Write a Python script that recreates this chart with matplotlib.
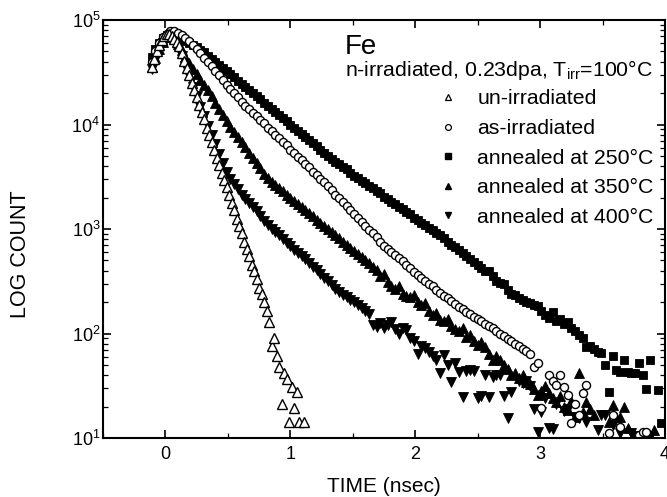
import numpy as np
import matplotlib
matplotlib.use("Agg")
import matplotlib.pyplot as plt
from matplotlib.lines import Line2D
from matplotlib.ticker import LogLocator, MultipleLocator, NullFormatter

plt.rcParams['font.family'] = ['Liberation Sans', 'DejaVu Sans']
plt.rcParams['mathtext.fontset'] = 'custom'
plt.rcParams['mathtext.rm'] = 'Liberation Sans'
plt.rcParams['mathtext.it'] = 'Liberation Sans:italic'
plt.rcParams['mathtext.bf'] = 'Liberation Sans:bold'

# ---------------- data (log10 of counts) ----------------
time_unirr = [
    -0.11, -0.09, -0.07, -0.05, -0.03, -0.01, 0.01, 0.03, 0.05, 0.07,
    0.09, 0.11, 0.13, 0.15, 0.17, 0.19, 0.21, 0.23, 0.25, 0.27,
    0.29, 0.31, 0.33, 0.35, 0.37, 0.39, 0.41, 0.43, 0.45, 0.47,
    0.49, 0.51, 0.53, 0.55, 0.57, 0.59, 0.61, 0.63, 0.65, 0.67,
    0.69, 0.71, 0.73, 0.75, 0.77, 0.79, 0.81, 0.83, 0.85, 0.87,
    0.89, 0.91, 0.93, 0.95, 0.97, 0.99, 1.01, 1.03, 1.05, 1.07,
    1.09, 1.11]
log_unirr = [
    4.55, 4.63, 4.70, 4.76, 4.81, 4.85, 4.87, 4.87, 4.85, 4.82,
    4.79, 4.75, 4.68, 4.61, 4.54, 4.47, 4.40, 4.33, 4.26, 4.19,
    4.12, 4.05, 3.97, 3.90, 3.83, 3.76, 3.68, 3.61, 3.54, 3.47,
    3.40, 3.33, 3.25, 3.18, 3.10, 3.03, 2.96, 2.88, 2.81, 2.74,
    2.66, 2.60, 2.52, 2.44, 2.38, 2.30, 2.22, 2.11, 1.88, 1.96,
    1.78, 1.68, 1.33, 1.62, 1.56, 1.15, 1.49, 1.29, 1.44, 1.15,
    None, 1.15]

time_ns = [
    -0.11, -0.08, -0.05, -0.02, 0.01, 0.04, 0.07, 0.10, 0.13, 0.16,
    0.19, 0.22, 0.25, 0.28, 0.31, 0.34, 0.37, 0.40, 0.43, 0.46,
    0.49, 0.52, 0.55, 0.58, 0.61, 0.64, 0.67, 0.70, 0.73, 0.76,
    0.79, 0.82, 0.85, 0.88, 0.91, 0.94, 0.97, 1.00, 1.03, 1.06,
    1.09, 1.12, 1.15, 1.18, 1.21, 1.24, 1.27, 1.30, 1.33, 1.36,
    1.39, 1.42, 1.45, 1.48, 1.51, 1.54, 1.57, 1.60, 1.63, 1.66,
    1.69, 1.72, 1.75, 1.78, 1.81, 1.84, 1.87, 1.90, 1.93, 1.96,
    1.99, 2.02, 2.05, 2.08, 2.11, 2.14, 2.17, 2.20, 2.23, 2.26,
    2.29, 2.32, 2.35, 2.38, 2.41, 2.44, 2.47, 2.50, 2.53, 2.56,
    2.59, 2.62, 2.65, 2.68, 2.71, 2.74, 2.77, 2.80, 2.83, 2.86,
    2.89, 2.92, 2.95, 2.98, 3.01, 3.04, 3.07, 3.10, 3.13, 3.16,
    3.19, 3.22, 3.25, 3.28, 3.31, 3.34, 3.37, 3.40, 3.43, 3.46,
    3.49, 3.52, 3.55, 3.58, 3.61, 3.64, 3.67, 3.70, 3.73, 3.76,
    3.79, 3.82, 3.85, 3.88, 3.91, 3.94, 3.97]

log_asirr = [
    4.60, 4.70, 4.78, 4.84, 4.87, 4.89, 4.89, 4.88, 4.86, 4.83,
    4.80, 4.76, 4.72, 4.68, 4.64, 4.60, 4.56, 4.51, 4.47, 4.43,
    4.38, 4.34, 4.30, 4.26, 4.22, 4.18, 4.15, 4.11, 4.08, 4.04,
    4.01, 3.97, 3.94, 3.90, 3.87, 3.83, 3.80, 3.76, 3.73, 3.69,
    3.66, 3.62, 3.59, 3.55, 3.52, 3.48, 3.45, 3.41, 3.37, 3.33,
    3.30, 3.26, 3.22, 3.18, 3.14, 3.11, 3.07, 3.03, 2.99, 2.96,
    2.92, 2.88, 2.84, 2.81, 2.78, 2.75, 2.72, 2.69, 2.66, 2.63,
    2.59, 2.56, 2.53, 2.50, 2.47, 2.45, 2.42, 2.39, 2.36, 2.34,
    2.31, 2.28, 2.25, 2.23, 2.21, 2.19, 2.16, 2.14, 2.12, 2.09,
    2.07, 2.05, 2.02, 2.00, 1.98, 1.95, 1.93, 1.90, 1.88, 1.85,
    1.83, 1.80, 1.68, 1.72, 1.29, None, 1.60, 1.55, 1.51, 1.60,
    1.49, 1.41, 1.14, 1.33, 1.22, 1.43, 1.51, None, None, None,
    None, None, 1.05, 1.22, None, 1.11, None, None, None, None,
    1.03, 1.06, 1.06, None, None, None, None]

log_ann250 = [
    4.65, 4.72, 4.78, 4.83, 4.86, 4.87, 4.86, 4.84, 4.82, 4.80,
    4.78, 4.76, 4.74, 4.71, 4.69, 4.66, 4.63, 4.60, 4.57, 4.54,
    4.51, 4.48, 4.45, 4.42, 4.39, 4.36, 4.33, 4.30, 4.27, 4.24,
    4.21, 4.18, 4.15, 4.12, 4.09, 4.06, 4.03, 4.00, 3.97, 3.94,
    3.91, 3.88, 3.85, 3.82, 3.79, 3.76, 3.73, 3.70, 3.67, 3.64,
    3.62, 3.59, 3.57, 3.54, 3.51, 3.49, 3.46, 3.44, 3.41, 3.39,
    3.36, 3.34, 3.31, 3.29, 3.26, 3.24, 3.21, 3.19, 3.16, 3.14,
    3.11, 3.09, 3.06, 3.04, 3.01, 2.99, 2.96, 2.94, 2.91, 2.88,
    2.85, 2.83, 2.80, 2.77, 2.74, 2.71, 2.68, 2.66, 2.63, 2.60,
    2.60, 2.55, 2.50, 2.48, 2.47, 2.42, 2.38, 2.37, 2.34, 2.32,
    2.30, 2.29, 2.27, 2.26, 2.22, 2.18, 2.15, 2.21, 2.12, 2.14,
    2.09, 2.11, 2.05, 2.02, 1.99, 1.96, 1.87, 1.88, 1.85, 1.82,
    1.81, 1.70, 1.44, 1.78, 1.65, 1.63, 1.75, 1.63, 1.62, 1.62,
    1.72, 1.60, 1.47, 1.75, None, 1.46, 1.14]

log_ann350 = [
    4.55, 4.64, 4.72, 4.79, 4.84, 4.85, 4.82, 4.77, 4.71, 4.65,
    4.59, 4.53, 4.48, 4.43, 4.38, 4.33, 4.27, 4.21, 4.15, 4.09,
    4.03, 3.98, 3.93, 3.88, 3.83, 3.78, 3.73, 3.68, 3.63, 3.58,
    3.53, 3.49, 3.45, 3.42, 3.39, 3.36, 3.33, 3.30, 3.27, 3.24,
    3.21, 3.18, 3.15, 3.12, 3.09, 3.06, 3.03, 3.00, 2.97, 2.94,
    2.91, 2.88, 2.85, 2.82, 2.79, 2.76, 2.73, 2.70, 2.67, 2.64,
    2.61, 2.55, 2.57, 2.49, 2.45, 2.43, 2.45, 2.38, 2.36, 2.35,
    2.37, 2.30, 2.27, 2.29, 2.22, 2.18, 2.20, 2.13, 2.12, 2.14,
    2.07, 2.04, 2.02, 2.05, 1.97, 1.99, 1.93, 1.89, 1.92, 1.87,
    1.80, 1.75, 1.78, 1.75, 1.70, 1.66, 1.60, 1.62, 1.57, 1.60,
    1.54, 1.52, 1.47, 1.41, 1.45, 1.50, 1.43, 1.38, 1.34, 1.40,
    1.30, 1.27, 1.35, 1.20, 1.62, 1.25, 1.34, 1.28, 1.22, None,
    None, None, 1.15, 1.32, 1.20, 1.20, 1.30, 1.10, None, None,
    None, None, None, 1.03, 1.08, None, None]

log_ann400 = [
    4.53, 4.62, 4.71, 4.78, 4.83, 4.84, 4.81, 4.75, 4.66, 4.56,
    4.46, 4.36, 4.27, 4.17, 4.08, 3.99, 3.90, 3.81, 3.72, 3.63,
    3.55, 3.48, 3.43, 3.38, 3.33, 3.29, 3.25, 3.21, 3.17, 3.12,
    3.08, 3.04, 3.00, 2.97, 2.94, 2.90, 2.87, 2.84, 2.80, 2.77,
    2.74, 2.71, 2.67, 2.64, 2.61, 2.57, 2.53, 2.50, 2.46, 2.43,
    2.40, 2.37, 2.35, 2.32, 2.30, 2.27, 2.24, 2.22, 2.19, 2.08,
    2.06, 2.10, 2.05, 2.08, 2.11, 2.04, 2.00, 2.05, 2.03, 1.96,
    1.93, 1.80, 1.88, 1.86, 1.82, 1.78, 1.75, 1.62, 1.79, 1.70,
    1.54, 1.72, 1.63, 1.39, 1.64, 1.65, 1.64, 1.38, 1.40, 1.60,
    1.39, 1.58, 1.60, 1.60, 1.40, 1.19, 1.44, None, 1.55, 1.53,
    1.55, 1.50, 1.28, 1.06, 1.25, 1.38, 1.10, 1.09, 1.33, None,
    1.26, 1.28, None, 1.20, 1.19, None, 1.15, None, None, 1.08,
    1.22, 1.22, None, 1.12, None, 1.05, None, None, 1.05, 1.02,
    None, None, None, None, None, None, None]

labels = ["un-irradiated", "as-irradiated", "annealed at 250°C",
          "annealed at 350°C", "annealed at 400°C"]


def counts(logs):
    return np.array([np.nan if v is None else 10.0 ** v for v in logs])


fig = plt.figure(figsize=(6.67, 4.97), dpi=100)
ax = fig.add_axes([103 / 667, 1 - 438 / 497, (665 - 103) / 667, (438 - 20) / 497])
ax.set_yscale('log')
ax.set_xlim(-0.5, 4.0)
ax.set_ylim(10, 1e5)

common = dict(ls='none', mec='black')
ax.plot(time_ns, counts(log_ann250), marker='s', ms=5.6, mfc='black', mew=0.6, **common)
ax.plot(time_ns, counts(log_ann350), marker='^', ms=7.0, mfc='black', mew=0.6, **common)
ax.plot(time_ns, counts(log_ann400), marker='v', ms=7.0, mfc='black', mew=0.6, **common)
ax.plot(time_ns, counts(log_asirr), marker='o', ms=5.8, mfc='white', mew=1.0, **common)
ax.plot(time_unirr, counts(log_unirr), marker='^', ms=7.0, mfc='white', mew=1.0, **common)

# ticks
ax.xaxis.set_major_locator(MultipleLocator(1))
ax.xaxis.set_minor_locator(MultipleLocator(0.5))
ax.yaxis.set_major_locator(LogLocator(base=10))
ax.yaxis.set_minor_locator(LogLocator(base=10, subs=np.arange(2, 10)))
ax.yaxis.set_minor_formatter(NullFormatter())
ax.tick_params(which='both', direction='in', top=True, right=True, labelsize=13)
ax.tick_params(which='major', length=6, width=1.2)
ax.tick_params(which='minor', length=3.5, width=0.9)
ax.tick_params(axis='x', pad=6)
ax.tick_params(axis='y', pad=2)
for s in ax.spines.values():
    s.set_linewidth(1.5)

ax.set_xlabel('TIME (nsec)', fontsize=15)
ax.set_ylabel('LOG COUNT', fontsize=15.5)
ax.xaxis.set_label_coords(0.5, -0.093)
ax.yaxis.set_label_coords(-0.128, 0.44)

ax.text(0.431, 0.918, 'Fe', transform=ax.transAxes, fontsize=20, va='baseline')
ax.text(0.431, 0.866, 'n-irradiated, 0.23dpa, T$_{\\rm irr}$=100°C',
        transform=ax.transAxes, fontsize=15.3, va='baseline')

handles = [
    Line2D([], [], marker='^', ls='none', mfc='white', mec='black', ms=4.5, mew=0.9),
    Line2D([], [], marker='o', ls='none', mfc='white', mec='black', ms=4.2, mew=0.9),
    Line2D([], [], marker='s', ls='none', mfc='black', mec='black', ms=4.2),
    Line2D([], [], marker='^', ls='none', mfc='black', mec='black', ms=4.8),
    Line2D([], [], marker='v', ls='none', mfc='black', mec='black', ms=4.8),
]
ax.legend(handles, labels, loc='upper left', bbox_to_anchor=(0.599, 0.834),
          frameon=False, fontsize=15.3, handlelength=0.8, handletextpad=0.98,
          labelspacing=0.5, borderpad=0, borderaxespad=0)

fig.savefig('out.png', dpi=100)
